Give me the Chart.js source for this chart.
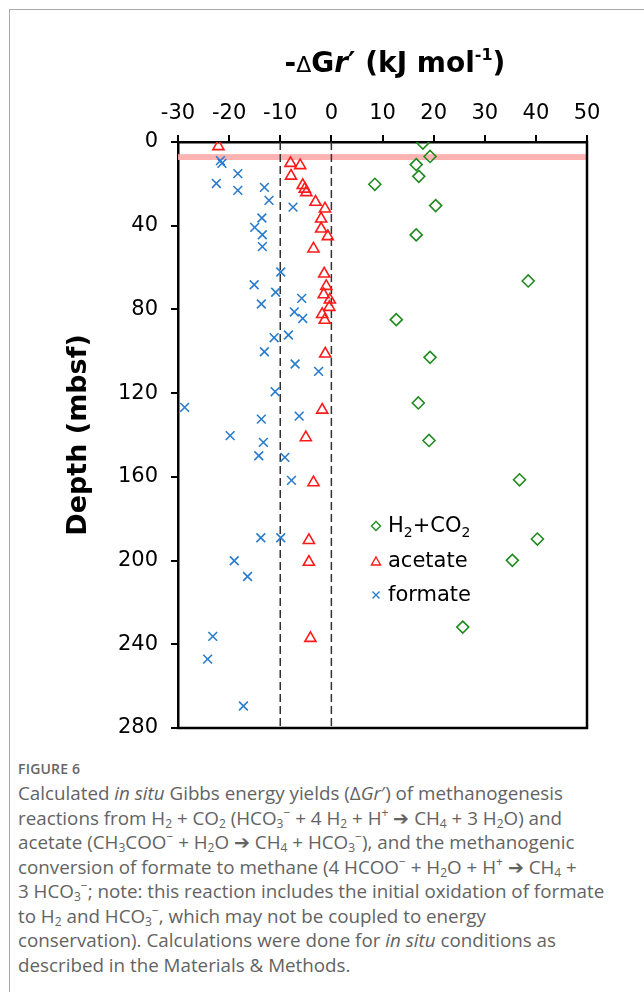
<!DOCTYPE html>
<html>
<head>
<meta charset="utf-8">
<script src="https://cdn.jsdelivr.net/npm/chart.js@4.4.1/dist/chart.umd.min.js"></script>
<style>
  html, body { margin:0; padding:0; background:#fff; }
  #page { position:relative; width:644px; height:992px; overflow:hidden; background:#fff; }
  #frame { position:absolute; left:9px; top:9px; width:700px; height:1000px; border-top:1.5px solid #aaa; border-left:1.5px solid #aaa; }
  #chartWrap { position:absolute; left:0; top:0; width:644px; height:740px; }
  #xtitle { position:absolute; left:195px; width:400px; top:46px; text-align:center; font-family:"DejaVu Sans"; font-weight:bold; font-size:28px; color:#000; white-space:nowrap; }
  #xtitle .d { font-weight:normal; font-size:22px; }
  #xtitle sup { font-size:16px; line-height:0; vertical-align:12px; }
  #legend { position:absolute; left:370px; top:508px; font-family:"DejaVu Sans"; font-size:21px; color:#000; }
  #legend .row { position:relative; height:34.5px; line-height:34.5px; white-space:nowrap; }
  #legend svg { position:absolute; left:0; top:12px; }
  #legend span.t { position:absolute; left:18px; top:0; }
  #legend sub { font-size:14px; line-height:0; vertical-align:-5px; }
  #caption { position:absolute; left:18px; top:757px; width:620px; font-family:"Open Sans"; color:#636363; }
  #caption .fig { font-size:14px; font-weight:600; letter-spacing:0.2px; line-height:24px; color:#666; }
  #caption .txt { font-size:18.8px; line-height:24.5px; white-space:nowrap; }
  #caption sub { font-size:12px; line-height:0; vertical-align:-3px; }
  #caption sup { font-size:12px; line-height:0; vertical-align:8px; }
</style>
</head>
<body>
<div id="page">
  <div id="frame"></div>
  <div id="chartWrap"><canvas id="c" width="644" height="740"></canvas></div>
  <div id="xtitle">-<span class="d">Δ</span>G<i>r</i>′ (kJ mol<sup>-1</sup>)</div>
  <div id="legend"></div>
  <div id="caption">
    <div class="fig">FIGURE 6</div>
    <div class="txt">
      Calculated <i>in situ</i> Gibbs energy yields (Δ<i>Gr</i>′) of methanogenesis<br>
      reactions from H<sub>2</sub> + CO<sub>2</sub> (HCO<sub>3</sub><sup>−</sup> + 4 H<sub>2</sub> + H<sup>+</sup> ➔ CH<sub>4</sub> + 3 H<sub>2</sub>O) and<br>
      acetate (CH<sub>3</sub>COO<sup>−</sup> + H<sub>2</sub>O ➔ CH<sub>4</sub> + HCO<sub>3</sub><sup>−</sup>), and the methanogenic<br>
      conversion of formate to methane (4 HCOO<sup>−</sup> + H<sub>2</sub>O + H<sup>+</sup> ➔ CH<sub>4</sub> +<br>
      3 HCO<sub>3</sub><sup>−</sup>; note: this reaction includes the initial oxidation of formate<br>
      to H<sub>2</sub> and HCO<sub>3</sub><sup>−</sup>, which may not be coupled to energy<br>
      conservation). Calculations were done for <i>in situ</i> conditions as<br>
      described in the Materials &amp; Methods.
    </div>
  </div>
</div>
<script>
// ---------------- data ----------------
const seriesNames = ["H2+CO2", "acetate", "formate"];
const seriesLegendHtml = ["H<sub>2</sub>+CO<sub>2</sub>", "acetate", "formate"];

const h2co2Depth  = [0.5, 6.9, 10.8, 16.4, 20.2, 30.4, 44.4, 66.4, 84.9, 102.9, 124.7, 142.6, 161.4, 189.7, 199.9, 231.8];
const h2co2Energy = [17.9, 19.3, 16.6, 17.1, 8.5, 20.4, 16.6, 38.5, 12.7, 19.3, 17.0, 19.1, 36.8, 40.3, 35.4, 25.7];

const acetateDepth  = [2.1, 10.1, 11.2, 16.2, 20.7, 22.4, 24.1, 28.7, 31.9, 36.7, 41.5, 45.1, 51.0, 63.0, 68.9, 72.9, 75.4, 78.9, 82.3, 85.1, 101.2, 128.0, 141.2, 162.7, 190.3, 200.7, 237.1];
const acetateEnergy = [-22.1, -8.0, -6.1, -7.9, -5.6, -5.2, -4.9, -3.1, -1.25, -2.0, -2.0, -0.7, -3.5, -1.4, -1.0, -1.5, -0.3, -0.4, -1.8, -1.3, -1.2, -1.8, -5.0, -3.5, -4.4, -4.4, -4.1];

const formateDepth  = [8.9, 10.2, 15.1, 19.8, 23.1, 21.7, 27.9, 31.1, 36.3, 40.8, 44.3, 50.0, 62.1, 68.2, 71.8, 74.7, 77.4, 81.2, 84.3, 93.5, 92.2, 100.2, 106.1, 109.6, 119.3, 126.8, 132.4, 131.0, 140.3, 143.5, 149.9, 150.7, 161.7, 189.1, 189.1, 200.1, 207.6, 236.2, 247.1, 269.5];
const formateEnergy = [-21.7, -21.4, -18.3, -22.5, -18.3, -13.1, -12.2, -7.5, -13.6, -15.0, -13.5, -13.5, -9.9, -15.1, -10.9, -5.8, -13.7, -7.25, -5.6, -11.2, -8.4, -13.1, -7.1, -2.5, -11.0, -28.7, -13.7, -6.3, -19.8, -13.3, -14.2, -9.1, -7.8, -13.8, -9.9, -19.0, -16.4, -23.2, -24.2, -17.2];

const xTicks = [-30, -20, -10, 0, 10, 20, 30, 40, 50];
const yTicks = [0, 40, 80, 120, 160, 200, 240, 280];
const referenceLines = [-10, 0];      // dashed vertical lines (kJ/mol)
const bandDepth = [5.8, 8.6];         // pink horizontal band (mbsf)

// ---------------- chart ----------------
const toPts = (xs, ys) => xs.map((x, i) => ({ x: x, y: ys[i] }));
const colors = { h2: "#1f8a1f", ac: "#ff1a1a", fo: "#2a7ccc" };

const refDatasets = referenceLines.map(v => ({
  type: "line",
  data: [{ x: v, y: yTicks[0] }, { x: v, y: yTicks[yTicks.length - 1] }],
  borderColor: "#333",
  borderWidth: 1.5,
  borderDash: [8, 4],
  pointRadius: 0,
  fill: false,
  order: 5
}));

const bandPlugin = {
  id: "band",
  beforeDatasetsDraw(chart) {
    const { ctx, chartArea, scales } = chart;
    const y1 = scales.y.getPixelForValue(bandDepth[0]);
    const y2 = scales.y.getPixelForValue(bandDepth[1]);
    ctx.save();
    ctx.fillStyle = "rgba(255,170,170,0.9)";
    ctx.fillRect(chartArea.left, y1, chartArea.right - chartArea.left, y2 - y1);
    ctx.restore();
  }
};
const framePlugin = {
  id: "frame",
  afterDraw(chart) {
    const { ctx, chartArea: a } = chart;
    ctx.save();
    ctx.strokeStyle = "#000";
    ctx.lineWidth = 2.5;
    ctx.beginPath();
    ctx.moveTo(a.left - 1.25, a.bottom); ctx.lineTo(a.right + 1.25, a.bottom);
    ctx.moveTo(a.right, a.top - 1.25); ctx.lineTo(a.right, a.bottom + 1.25);
    ctx.stroke();
    ctx.restore();
  }
};

Chart.defaults.font.family = "DejaVu Sans";
Chart.defaults.color = "#000";

const chart = new Chart(document.getElementById("c"), {
  type: "scatter",
  data: {
    datasets: [
      { label: seriesNames[0], data: toPts(h2co2Energy, h2co2Depth), pointStyle: "rectRot", pointRadius: 6,
        borderColor: colors.h2, backgroundColor: "rgba(0,0,0,0)", borderWidth: 1.6, order: 1 },
      { label: seriesNames[1], data: toPts(acetateEnergy, acetateDepth), pointStyle: "triangle", pointRadius: 6.4,
        borderColor: colors.ac, backgroundColor: "rgba(0,0,0,0)", borderWidth: 1.6, order: 2 },
      { label: seriesNames[2], data: toPts(formateEnergy, formateDepth), pointStyle: "crossRot", pointRadius: 6.2,
        borderColor: colors.fo, backgroundColor: "rgba(0,0,0,0)", borderWidth: 1.6, order: 3 },
      ...refDatasets
    ]
  },
  options: {
    responsive: false,
    animation: false,
    layout: { padding: { left: 0, top: 0, right: 57, bottom: 12 } },
    plugins: { legend: { display: false }, tooltip: { enabled: false } },
    scales: {
      x: {
        type: "linear", position: "top",
        min: xTicks[0], max: xTicks[xTicks.length - 1],
        afterBuildTicks: s => { s.ticks = xTicks.map(v => ({ value: v })); },
        afterFit: s => { s.height = 142; s.paddingLeft = 0; s.paddingRight = 0; },
        ticks: { font: { size: 21 }, padding: 9, maxRotation: 0, color: "#000" },
        grid: { display: true, drawOnChartArea: false, drawTicks: true, tickLength: 7, color: "#000", lineWidth: 2 },
        border: { display: true, color: "#000", width: 2.5 }
      },
      y: {
        type: "linear", position: "left", reverse: true,
        min: yTicks[0], max: yTicks[yTicks.length - 1],
        afterBuildTicks: s => { s.ticks = yTicks.map(v => ({ value: v })); },
        afterFit: s => { s.width = 178; s.paddingTop = 0; s.paddingBottom = 0; },
        ticks: { font: { size: 21 }, padding: 13, color: "#000" },
        grid: { display: true, drawOnChartArea: false, drawTicks: true, tickLength: 7, color: "#000", lineWidth: 2 },
        border: { display: true, color: "#000", width: 2.5 },
        title: { display: true, text: "Depth (mbsf)", font: { size: 27, weight: "bold" }, color: "#000", padding: { top: 63, bottom: 0 } }
      }
    }
  },
  plugins: [bandPlugin, framePlugin]
});

// ---------------- legend (HTML, built from datasets) ----------------
const markerSvg = {
  rectRot: c => `<svg width="12" height="12" viewBox="0 0 12 12"><path d="M6 1.5 L10.5 6 L6 10.5 L1.5 6 Z" fill="none" stroke="${c}" stroke-width="1.4"/></svg>`,
  triangle: c => `<svg width="12" height="12" viewBox="0 0 12 12"><path d="M6 2 L10.5 10 L1.5 10 Z" fill="none" stroke="${c}" stroke-width="1.4"/></svg>`,
  crossRot: c => `<svg width="12" height="12" viewBox="0 0 12 12"><path d="M2.5 2.5 L9.5 9.5 M9.5 2.5 L2.5 9.5" fill="none" stroke="${c}" stroke-width="1.4"/></svg>`
};
const legendEl = document.getElementById("legend");
chart.data.datasets.slice(0, 3).forEach((ds, i) => {
  const row = document.createElement("div");
  row.className = "row";
  row.innerHTML = markerSvg[ds.pointStyle](ds.borderColor) + `<span class="t">${seriesLegendHtml[i]}</span>`;
  legendEl.appendChild(row);
});
</script>
</body>
</html>
